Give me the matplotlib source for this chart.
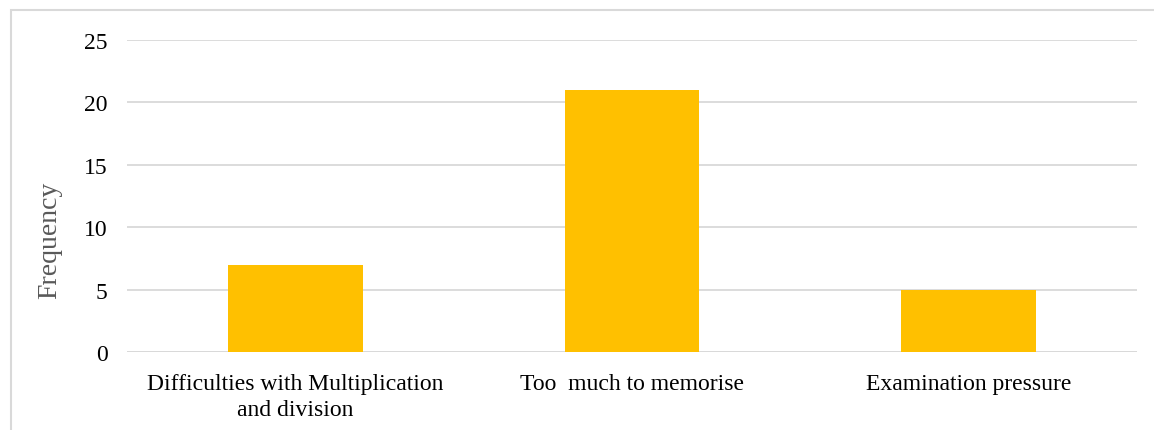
import matplotlib.pyplot as plt
from matplotlib.patches import Rectangle

categories = ['Difficulties with Multiplication\nand division', 'Too  much to memorise', 'Examination pressure']
frequency = [7, 21, 5]
yticks = [0, 5, 10, 15, 20, 25]

plt.rcParams['font.family'] = ['Liberation Serif', 'DejaVu Serif']

fig = plt.figure(figsize=(11.54, 4.31), dpi=100)
ax = fig.add_axes([0.110, 0.181, 0.8753, 0.7239])

x = range(len(categories))
ax.bar(x, frequency, width=0.4, color='#ffc000', zorder=3)

ax.set_xlim(-0.5, len(categories) - 0.5)
ax.set_ylim(0, 25)
ax.set_yticks(yticks)
ax.set_xticks(list(x))
ax.set_xticklabels(categories, fontsize=17, color='#000000', linespacing=1.3)
ax.tick_params(axis='y', labelsize=17, length=0, pad=14)
ax.tick_params(axis='x', length=0, pad=15)
ax.grid(axis='y', color='#d9d9d9', linewidth=1.3, zorder=0)
for s in ax.spines.values():
    s.set_visible(False)
ax.axhline(0, color='#d9d9d9', linewidth=1.3, zorder=2)

ax.set_ylabel('Frequency', fontsize=20, color='#595959')
ax.yaxis.set_label_coords(-0.064, 0.362)

# light frame around the chart
fig.patches.append(Rectangle((11 / 1154, -0.1), 1.2, 1 - 11 / 431 + 0.1,
                             transform=fig.transFigure, fill=False,
                             edgecolor='#d9d9d9', linewidth=1.5))

fig.savefig('out.png', dpi=100)
